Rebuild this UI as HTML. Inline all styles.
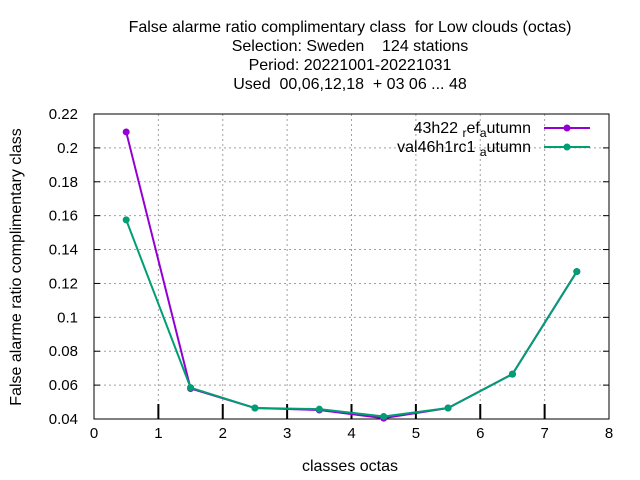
<!DOCTYPE html>
<html><head><meta charset="utf-8"><style>
body{margin:0;background:#fff}
svg{display:block;font-family:"Liberation Sans",sans-serif}
text{white-space:pre}
</style></head><body>
<svg id="c" width="640" height="480">
<g font-size="16" text-anchor="middle" fill="#000">
<text x="350" y="32">False alarme ratio complimentary class  for Low clouds (octas)</text>
<text x="350" y="51">Selection: Sweden    124 stations</text>
<text x="350" y="70">Period: 20221001-20221031</text>
<text x="350" y="89">Used  00,06,12,18  + 03 06 ... 48</text>
</g>
<g id="grid"></g>
<g id="axes"></g>
<text x="350" y="471" font-size="16" text-anchor="middle">classes octas</text>
<text transform="translate(21,267) rotate(-90)" font-size="16" text-anchor="middle">False alarme ratio complimentary class</text>
<g id="series"></g>
<g font-size="16" text-anchor="end">
<g>
<text x="531" y="133">43h22 <tspan font-size="12" dy="4">r</tspan><tspan dy="-4">ef</tspan><tspan font-size="12" dy="4">a</tspan><tspan dy="-4">utumn</tspan></text>
<line x1="544" y1="128" x2="590" y2="128" stroke="#9400d3" stroke-width="2"/>
<circle cx="567" cy="128" r="3.5" fill="#9400d3"/>
</g>
<g>
<text x="531" y="152">val46h1rc1 <tspan font-size="12" dy="4">a</tspan><tspan dy="-4">utumn</tspan></text>
<line x1="544" y1="147" x2="590" y2="147" stroke="#009e73" stroke-width="2"/>
<circle cx="567" cy="147" r="3.5" fill="#009e73"/>
</g>
</g>
</svg>
<script>
const xTicks=[0,1,2,3,4,5,6,7,8];
const yTicks=[0.04,0.06,0.08,0.1,0.12,0.14,0.16,0.18,0.2,0.22];
const yTickLabels=["0.04","0.06","0.08","0.1","0.12","0.14","0.16","0.18","0.2","0.22"];
const classes=[0.5,1.5,2.5,3.5,4.5,5.5,6.5,7.5];
const refValues=[0.2094,0.058,0.0465,0.0453,0.0405,0.0465,0.0665,0.127];
const valValues=[0.1575,0.0585,0.0465,0.0458,0.0415,0.0465,0.0665,0.127];
const L=94,R=609,T=114,B=419;
const sx=v=>L+(v-0)/(8-0)*(R-L);
const sy=v=>B-(v-0.04)/(0.22-0.04)*(B-T);
const NS="http://www.w3.org/2000/svg";
function mk(p,t,a){const e=document.createElementNS(NS,t);for(const k in a)e.setAttribute(k,a[k]);p.appendChild(e);return e;}
const grid=document.getElementById('grid'),axes=document.getElementById('axes'),series=document.getElementById('series');
xTicks.forEach(v=>{
 if(v>0&&v<8){const g=mk(grid,'line',{x1:sx(v),x2:sx(v),y1:T,y2:B,stroke:'#a0a0a0','stroke-dasharray':'2,3','stroke-width':1});
 
 
 const tk=mk(axes,'line',{x1:sx(v),x2:sx(v),y1:B,y2:B-15,stroke:'#000','stroke-width':2});
 
 }
 const t=mk(axes,'text',{x:sx(v),y:B+19,'font-size':15,'text-anchor':'middle'});t.textContent=v;
 
 
});
yTicks.forEach((v,i)=>{
 if(i>0&&i<yTicks.length-1){const g=mk(grid,'line',{x1:L,x2:R,y1:sy(v),y2:sy(v),stroke:'#a0a0a0','stroke-dasharray':'2,3','stroke-width':1});
 
 }
 mk(axes,'line',{x1:L,x2:L+6,y1:sy(v),y2:sy(v),stroke:'#000'});
 mk(axes,'line',{x1:R,x2:R-6,y1:sy(v),y2:sy(v),stroke:'#000'});
 const t=mk(axes,'text',{x:L-16,y:sy(v)+5,'font-size':15,'text-anchor':'end'});t.textContent=yTickLabels[i];
 
 
});
const fr=mk(axes,'rect',{x:L,y:T,width:R-L,height:B-T,fill:'none',stroke:'#000','stroke-width':1});


function draw(vals,col,name){
 const pl=mk(series,'polyline',{points:classes.map((c,i)=>sx(c)+','+sy(vals[i])).join(' '),fill:'none',stroke:col,'stroke-width':2});
 
 
 classes.forEach((c,i)=>{const p=mk(series,'circle',{cx:sx(c),cy:sy(vals[i]),r:3.5,fill:col});
 
 });
}
draw(refValues,'#9400d3','ref-series');
draw(valValues,'#009e73','val-series');
</script>
</body></html>
